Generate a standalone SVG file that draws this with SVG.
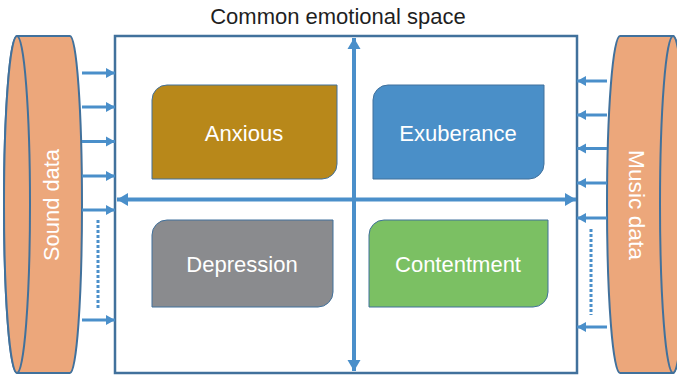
<svg xmlns="http://www.w3.org/2000/svg" width="677" height="377" viewBox="0 0 677 377">
  <style>
    text { font-family: "Liberation Sans", Arial, sans-serif; font-size: 22px; }
    .title { fill: #1f1f1f; }
    .label { fill: #ffffff; text-anchor: middle; }
    .drum { fill: #eca77b; stroke: #41719c; stroke-width: 2; }
    .tile { stroke: #41719c; stroke-width: 1; }
    .frame { fill: #ffffff; stroke: #41719c; stroke-width: 2.5; }
    .feed { stroke: #4a8fca; stroke-width: 3; fill: none; }
    .axis { stroke: #4a8fca; stroke-width: 4; fill: none; }
    .dots { stroke: #4a8fca; stroke-width: 3; stroke-dasharray: 3 2; fill: none; }
  </style>
  <defs>
    <marker id="feed-head" markerUnits="userSpaceOnUse" markerWidth="10" markerHeight="12" refX="9" refY="6" orient="auto">
      <path d="M0,1 L9,6 L0,11 Z" fill="#4a8fca"/>
    </marker>
    <marker id="axis-head" markerUnits="userSpaceOnUse" markerWidth="12" markerHeight="14" refX="11" refY="7" orient="auto-start-reverse">
      <path d="M0,0.5 L11,7 L0,13.5 Z" fill="#4a8fca"/>
    </marker>
  </defs>

  <g id="title">
    <text class="title" x="338" y="24" text-anchor="middle">Common emotional space</text>
  </g>

  <g id="space">
    <rect class="frame" x="115" y="36" width="462" height="337"/>
  </g>

  <g id="sound-data">
    <path class="drum" d="M17,36 L70,36 A12,168.5 0 0 1 70,373 L17,373 A13,168.5 0 0 1 17,36 Z"/>
    <ellipse class="drum" cx="17" cy="204.5" rx="13" ry="168.5"/>
    <text class="label" transform="translate(59,205) rotate(-90)" x="0" y="0" textLength="112" lengthAdjust="spacingAndGlyphs">Sound data</text>
  </g>

  <g id="music-data">
    <path class="drum" d="M620,36 L673,36 A13,168.5 0 0 1 673,373 L620,373 A13,168.5 0 0 1 620,36 Z"/>
    <ellipse class="drum" cx="673" cy="204.5" rx="13" ry="168.5"/>
    <text class="label" transform="translate(629,205) rotate(90)" x="0" y="0" textLength="110" lengthAdjust="spacingAndGlyphs">Music data</text>
  </g>

  <g id="anxious">
    <path class="tile" fill="#b8881a" d="M152,100 A15,15 0 0 1 167,85 L337,85 L337,164 A15,15 0 0 1 322,179 L152,179 Z"/>
    <text class="label" x="244" y="141">Anxious</text>
  </g>

  <g id="exuberance">
    <path class="tile" fill="#4a8fc8" d="M373,100 A15,15 0 0 1 388,85 L544,85 L544,164 A15,15 0 0 1 529,179 L373,179 Z"/>
    <text class="label" x="458" y="141">Exuberance</text>
  </g>

  <g id="depression">
    <path class="tile" fill="#8a8b8e" d="M152,235 A15,15 0 0 1 167,220 L333,220 L333,292 A15,15 0 0 1 318,307 L152,307 Z"/>
    <text class="label" x="242" y="272">Depression</text>
  </g>

  <g id="contentment">
    <path class="tile" fill="#7bc063" d="M369,235 A15,15 0 0 1 384,220 L548,220 L548,292 A15,15 0 0 1 533,307 L369,307 Z"/>
    <text class="label" x="458" y="272">Contentment</text>
  </g>

  <g id="connectors">
    <!-- emotional axes -->
    <line class="axis" x1="117" y1="199.5" x2="576" y2="199.5" marker-start="url(#axis-head)" marker-end="url(#axis-head)"/>
    <line class="axis" x1="354" y1="38" x2="354" y2="371" marker-start="url(#axis-head)" marker-end="url(#axis-head)"/>

    <!-- sound inputs -->
    <line class="feed" x1="82" y1="73" x2="115" y2="73" marker-end="url(#feed-head)"/>
    <line class="feed" x1="82" y1="107" x2="115" y2="107" marker-end="url(#feed-head)"/>
    <line class="feed" x1="82" y1="141.5" x2="115" y2="141.5" marker-end="url(#feed-head)"/>
    <line class="feed" x1="82" y1="176" x2="115" y2="176" marker-end="url(#feed-head)"/>
    <line class="feed" x1="82" y1="210" x2="115" y2="210" marker-end="url(#feed-head)"/>
    <line class="feed" x1="82" y1="320" x2="115" y2="320" marker-end="url(#feed-head)"/>
    <line class="dots" x1="98" y1="220" x2="98" y2="308"/>

    <!-- music inputs -->
    <line class="feed" x1="607" y1="81" x2="577" y2="81" marker-end="url(#feed-head)"/>
    <line class="feed" x1="607" y1="115" x2="577" y2="115" marker-end="url(#feed-head)"/>
    <line class="feed" x1="607" y1="148.5" x2="577" y2="148.5" marker-end="url(#feed-head)"/>
    <line class="feed" x1="607" y1="183" x2="577" y2="183" marker-end="url(#feed-head)"/>
    <line class="feed" x1="607" y1="218" x2="577" y2="218" marker-end="url(#feed-head)"/>
    <line class="feed" x1="607" y1="327" x2="577" y2="327" marker-end="url(#feed-head)"/>
    <line class="dots" x1="591" y1="229" x2="591" y2="315"/>
  </g>
</svg>
